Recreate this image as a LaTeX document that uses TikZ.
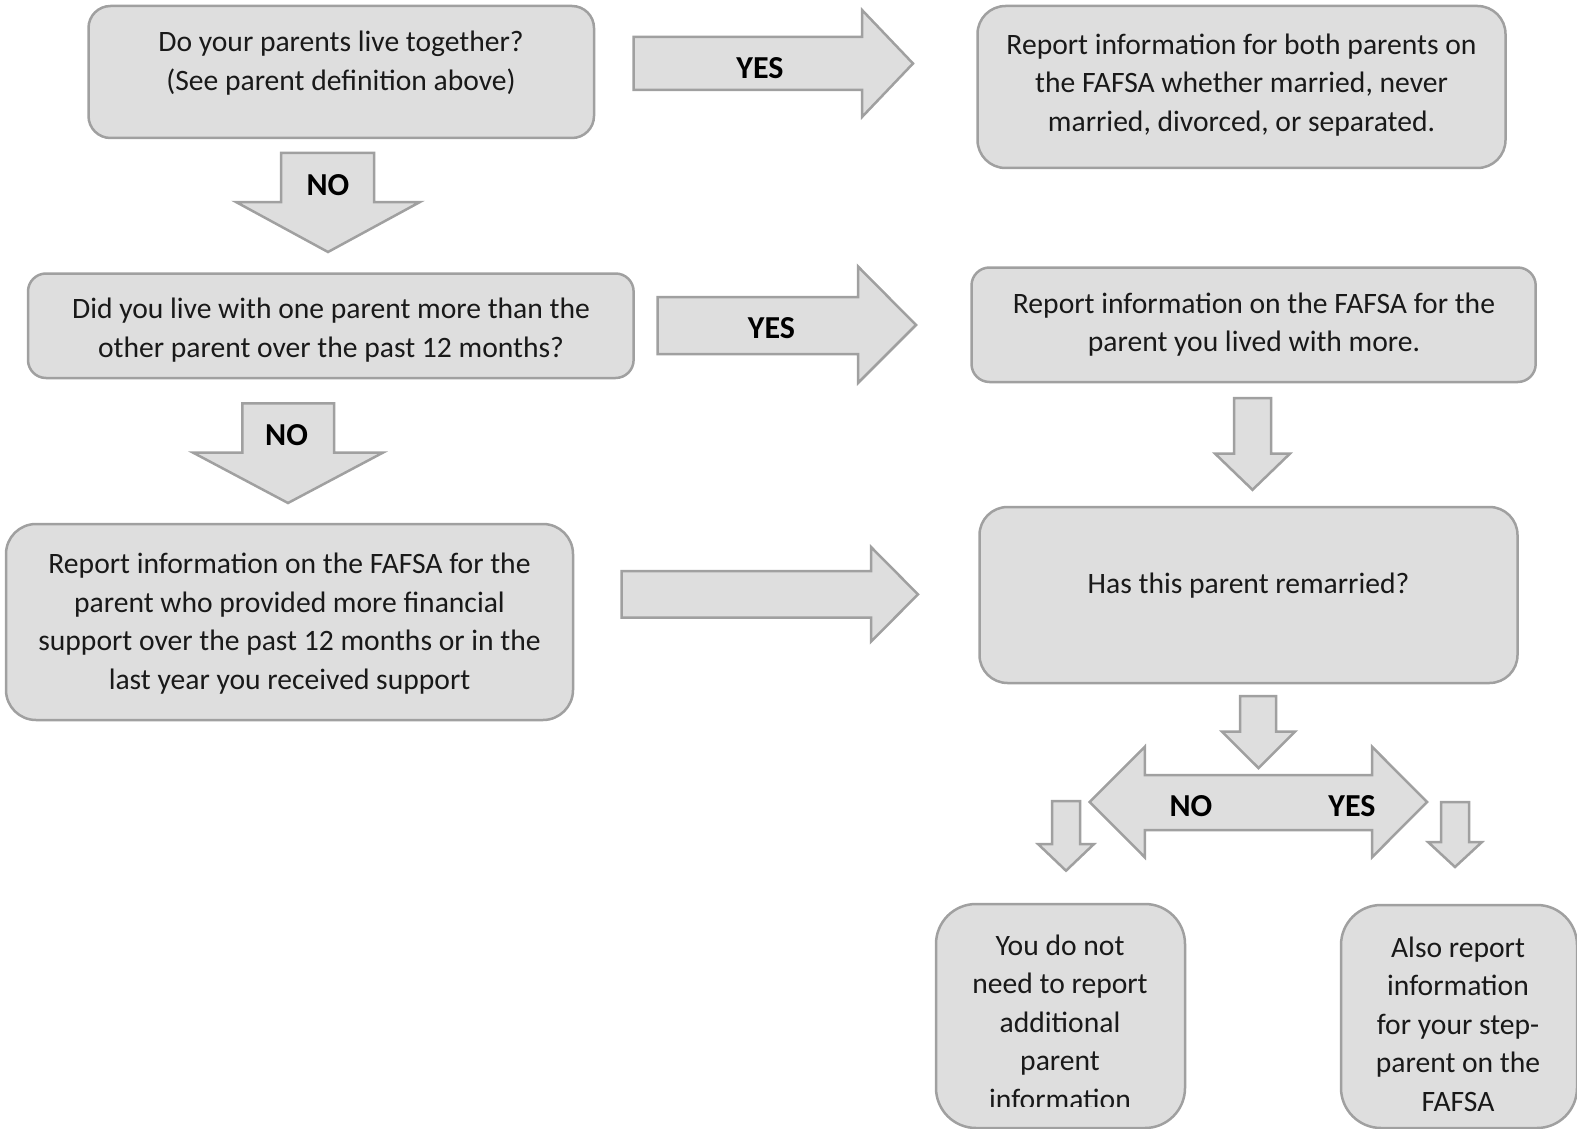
\documentclass[tikz,border=0pt]{standalone}
\usepackage{fontspec}
\setmainfont{Carlito}
\definecolor{boxfill}{RGB}{222,222,222}
\definecolor{boxline}{RGB}{160,160,160}
\begin{document}
\begin{tikzpicture}[x=1pt,y=-1pt,
  box/.style={draw=boxline, fill=boxfill, line width=2.5pt, rectangle, inner sep=0pt},
  txt/.style={align=center, font=\fontsize{29.6}{38.5}\selectfont, inner sep=0pt, text=black!90},
  lbl/.style={font=\fontsize{32}{36}\selectfont\bfseries, inner sep=0pt},
  barrow/.style={draw=boxline, fill=boxfill, line width=2.5pt, line join=miter}]
\useasboundingbox (0,0) rectangle (1577,1129);

% boxes
\node[box, rounded corners=22pt, minimum width=505.5pt, minimum height=132pt] (q1) at (341.25,72) {};
\node[box, rounded corners=28pt, minimum width=528pt, minimum height=162pt] (r1) at (1241.5,87) {};
\node[box, rounded corners=18pt, minimum width=605.6pt, minimum height=104.5pt] (q2) at (330.8,325.75) {};
\node[box, rounded corners=18pt, minimum width=564.2pt, minimum height=114.5pt] (r2) at (1253.6,324.75) {};
\node[box, rounded corners=30pt, minimum width=567pt, minimum height=196pt] (r3) at (289.5,622) {};
\node[box, rounded corners=28pt, minimum width=538pt, minimum height=176pt] (q3) at (1248.5,595) {};
\node[box, rounded corners=40pt, minimum width=249pt, minimum height=224pt] (e1) at (1060.5,1016) {};
\node[box, rounded corners=40pt, minimum width=236pt, minimum height=223pt] (e2) at (1459,1016.5) {};

% texts
\node[txt] (tq1) at (341,63) {Do your parents live together?\\(See parent definition above)};
\node[txt] (tr1) at (1241.5,85) {Report information for both parents on\\the FAFSA whether married, never\\married, divorced, or separated.};
\node[txt] (tq2) at (331,330) {Did you live with one parent more than the\\other parent over the past 12 months?};
\node[txt] (tr2) at (1254,324.5) {Report information on the FAFSA for the\\parent you lived with more.};
\node[txt] (tr3) at (289.5,623.5) {Report information on the FAFSA for the\\parent who provided more financial\\support over the past 12 months or in the\\last year you received support};
\node[txt] (tq3) at (1248.5,586) {Has this parent remarried?};
\begin{scope}
\clip (930,890) rectangle (1190,1106.5);
\node[txt] (te1) at (1060,1022) {You do not\\need to report\\additional\\parent\\information};
\end{scope}
\node[txt] (te2) at (1458,1024) {Also report\\information\\for your step-\\parent on the\\FAFSA};

% block arrows
\draw[barrow] (633.6,37) -- (862,37) -- (862,10) -- (913,63.5) -- (862,117) -- (862,90) -- (633.6,90) -- cycle;
\node[lbl] (yes1) at (760,68) {YES};

\draw[barrow] (281,153) -- (374,153) -- (374,202) -- (420,202) -- (328,252) -- (236,202) -- (281,202) -- cycle;
\node[lbl] (no1) at (328,185) {NO};

\draw[barrow] (657.7,297) -- (858,297) -- (858,266.5) -- (916,325) -- (858,383) -- (858,354) -- (657.7,354) -- cycle;
\node[lbl] (yes2) at (771.4,328.5) {YES};

\draw[barrow] (242.4,403.3) -- (334,403.3) -- (334,452.6) -- (383,452.6) -- (288,503) -- (193,452.6) -- (242.4,452.6) -- cycle;
\node[lbl] (no2) at (286.6,435) {NO};

\draw[barrow] (621.5,571) -- (871,571) -- (871,547) -- (918,594.4) -- (871,641.6) -- (871,617.5) -- (621.5,617.5) -- cycle;

\draw[barrow] (1234,398) -- (1271,398) -- (1271,453.6) -- (1290,453.6) -- (1252.5,489.8) -- (1215,453.6) -- (1234,453.6) -- cycle;

\draw[barrow] (1240,696) -- (1276,696) -- (1276,731.7) -- (1295,731.7) -- (1258.5,768) -- (1222,731.7) -- (1240,731.7) -- cycle;

\draw[barrow] (1089.7,802) -- (1144.8,746.7) -- (1144.8,775) -- (1372,775) -- (1372,746.7) -- (1427,802) -- (1372,857.3) -- (1372,830) -- (1144.8,830) -- (1144.8,857.3) -- cycle;
\node[lbl] (no3) at (1191,806.5) {NO};
\node[lbl] (yes3) at (1352,806.5) {YES};

\draw[barrow] (1052,801) -- (1080,801) -- (1080,844) -- (1094,844) -- (1066,870.7) -- (1038,844) -- (1052,844) -- cycle;
\draw[barrow] (1441,802) -- (1469,802) -- (1469,842) -- (1482,842) -- (1455,867) -- (1428,842) -- (1441,842) -- cycle;
\end{tikzpicture}
\end{document}
